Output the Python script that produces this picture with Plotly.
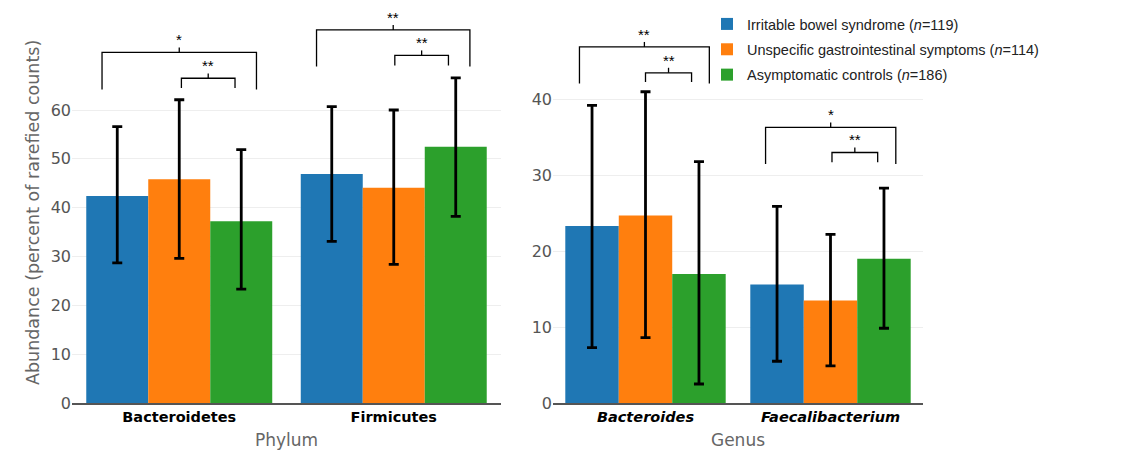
import plotly.graph_objects as go
from plotly.subplots import make_subplots

# ---------------- data ----------------
groups = [
    "Irritable bowel syndrome (<i>n</i>=119)",
    "Unspecific gastrointestinal symptoms (<i>n</i>=114)",
    "Asymptomatic controls (<i>n</i>=186)",
]
colors = ["#1f77b4", "#ff7f0e", "#2ca02c"]

phylum_categories = ["<b>Bacteroidetes</b>", "<b>Firmicutes</b>"]
phylum_means = [[42.4, 46.9], [45.8, 44.1], [37.2, 52.5]]
phylum_upper = [[56.6, 60.7], [62.1, 60.0], [51.9, 66.6]]
phylum_lower = [[28.7, 33.1], [29.6, 28.4], [23.3, 38.2]]

genus_categories = ["<b><i>Bacteroides</i></b>", "<b><i>Faecalibacterium</i></b>"]
genus_means = [[23.3, 15.6], [24.7, 13.5], [17.0, 19.0]]
genus_upper = [[39.2, 25.9], [41.0, 22.2], [31.8, 28.3]]
genus_lower = [[7.3, 5.5], [8.6, 4.9], [2.5, 9.85]]

phylum_ticks = [0, 10, 20, 30, 40, 50, 60]
genus_ticks = [0, 10, 20, 30, 40]

# significance brackets: (category index, left offset, right offset, top, leg end, label)
phylum_brackets = [
    (0, -0.36, 0.36, 71.8, 64.2, "*"),
    (0, 0.01, 0.26, 66.5, 64.5, "**"),
    (1, -0.36, 0.355, 76.4, 68.9, "**"),
    (1, 0.005, 0.255, 71.2, 69.1, "**"),
]
genus_brackets = [
    (0, -0.357, 0.345, 46.9, 42.1, "**"),
    (0, 0.0, 0.249, 43.5, 42.3, "**"),
    (1, -0.351, 0.353, 36.3, 31.5, "*"),
    (1, 0.008, 0.255, 33.0, 31.7, "**"),
]

# ---------------- figure ----------------
W, H = 1137, 451
OFF = 8  # page body margin
fig = make_subplots(rows=1, cols=2)

def add_bars(cats, means, upper, lower, col, show):
    for i, g in enumerate(groups):
        fig.add_trace(go.Bar(
            x=cats, y=means[i], name=g, marker_color=colors[i],
            marker_line_width=0, showlegend=show, legendgroup=str(i),
            error_y=dict(type="data", symmetric=False,
                         array=[u - m for u, m in zip(upper[i], means[i])],
                         arrayminus=[m - l for m, l in zip(means[i], lower[i])],
                         color="black", thickness=2.8, width=5),
        ), row=1, col=col)

add_bars(phylum_categories, phylum_means, phylum_upper, phylum_lower, 1, True)
add_bars(genus_categories, genus_means, genus_upper, genus_lower, 2, False)

def add_brackets(brackets, xref, yref, tick):
    for c, lo, hi, top, leg, lab in brackets:
        x1, x2 = c + lo, c + hi
        xm = (x1 + x2) / 2
        fig.add_shape(type="path", xref=xref, yref=yref,
                      path=f"M {x1},{leg} L {x1},{top} L {x2},{top} L {x2},{leg}",
                      line=dict(color="black", width=1.3))
        fig.add_shape(type="line", xref=xref, yref=yref,
                      x0=xm, x1=xm, y0=top, y1=top + tick,
                      line=dict(color="black", width=1.3))
        fig.add_annotation(x=xm, y=top, xref=xref, yref=yref, text=lab,
                           showarrow=False, yanchor="bottom", yshift=2,
                           font=dict(family="Liberation Sans", size=15, color="black"))

add_brackets(phylum_brackets, "x", "y", 1.0)
add_brackets(genus_brackets, "x2", "y2", 0.66)

axis_font = dict(family="DejaVu Sans", size=16, color="#555555")
cat_font = dict(family="DejaVu Sans", size=14.5, color="black")
title_font = dict(family="DejaVu Sans", size=17, color="#666666")

fig.update_xaxes(type="category", range=[-0.5, 1.5], showline=True,
                 linecolor="#555555", linewidth=1.5, ticks="",
                 tickfont=cat_font, showgrid=False, zeroline=False,
                 automargin=False)
fig.update_yaxes(showgrid=True, gridcolor="#eeeeee", gridwidth=1,
                 zeroline=False, showline=False, tickfont=axis_font, ticks="",
                 automargin=False)

top_px, bot_px = 10 - OFF, 403 - OFF
plot_h = bot_px - top_px

fig.update_layout(
    xaxis=dict(domain=[(72 - OFF) / W, (501 - OFF) / W],
               title=dict(text="Phylum", font=title_font, standoff=10)),
    xaxis2=dict(domain=[(553 - OFF) / W, (923 - OFF) / W],
                title=dict(text="Genus", font=title_font, standoff=10)),
    yaxis=dict(range=[0, 80.48], tickvals=phylum_ticks),
    yaxis2=dict(range=[0, 51.77], tickvals=genus_ticks),
)

fig.add_annotation(text="Abundance (percent of rarefied counts)", textangle=-90,
                   xref="paper", yref="paper", x=(21 - OFF) / W,
                   y=(bot_px - (213 - OFF)) / plot_h,
                   showarrow=False,
                   font=dict(family="DejaVu Sans", size=17.5, color="#666666"))

fig.update_layout(
    width=W, height=H,
    margin=dict(l=0, r=0, t=top_px, b=H - bot_px, autoexpand=False),
    barmode="group", bargap=0.133, bargroupgap=0,
    plot_bgcolor="white", paper_bgcolor="white",
    legend=dict(x=699 / W, y=1 + 2 / plot_h, xanchor="left", yanchor="top",
                bgcolor="rgba(0,0,0,0)", tracegroupgap=3.5,
                font=dict(family="Liberation Sans", size=14.5, color="#222222")),
    font=dict(family="DejaVu Sans"),
)

fig.write_html("out.html")
